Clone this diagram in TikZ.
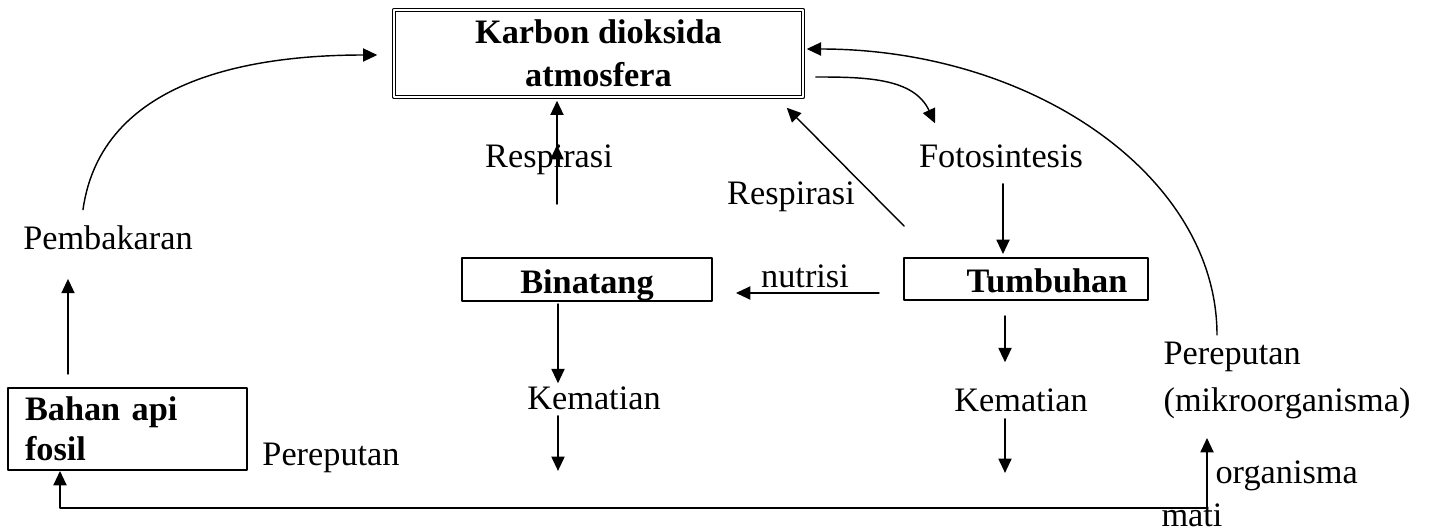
\documentclass[tikz,border=0pt]{standalone}
\usepackage{fontspec}
\setmainfont{Liberation Serif}
\usetikzlibrary{arrows.meta,calc}
\begin{document}
\begin{tikzpicture}[line cap=round,line join=round,>={Triangle[length=5pt,width=4.6pt]},x=0.35pt,y=0.35pt,
	kotak/.style={draw,line width=0.7pt,inner sep=0pt,font=\bfseries\fontsize{12}{14}\selectfont},
	teks/.style={inner sep=0pt,font=\fontsize{12}{14}\selectfont},
	panah/.style={->,line width=0.5pt}]
	\useasboundingbox (0,0) rectangle (1429,531);
	% kotak
	\node[kotak,double,double distance=0.6pt,line width=0.5pt,align=center,minimum width=143.15pt,minimum height=30.45pt,font=\bfseries\fontsize{12}{15}\selectfont] (co2) at (598.5,477.5) {Karbon dioksida\\atmosfera};
	\node[kotak,minimum width=87.5pt,text height=12.25pt,text depth=2.8pt] (bin) at (587,251.5) {Binatang\hspace{7pt}};
	\node[kotak,minimum width=85.4pt,text height=11.9pt,text depth=2.8pt] (tumb) at (1026,252) {\hspace{14.7pt}Tumbuhan};
	\node[kotak,minimum width=83.65pt,minimum height=28.7pt,text width=71.75pt,align=left,inner xsep=5.95pt] (fosil) at (127.5,102) {Bahan api\\fosil};
	% teks
	\node[teks,anchor=base] (pemb) at (108,282) {Pembakaran};
	\node[teks,anchor=base] (resp1) at (549,363) {Respirasi};
	\node[teks,anchor=base] (foto) at (1001,363) {Fotosintesis};
	\node[teks,anchor=base] (resp2) at (791,326) {Respirasi};
	\node[teks,anchor=base] (nutrisi) at (805,243) {nutrisi};
	\node[teks,anchor=base] (mati1) at (594,122) {Kematian};
	\node[teks,anchor=base] (mati2) at (1021,120) {Kematian};
	\node[teks,anchor=base] (reputA) at (331,66) {Pereputan};
	\node[teks,anchor=base west] (reputB) at (1163,167) {Pereputan};
	\node[teks,anchor=base west] (mikro) at (1163,120) {(mikroorganisma)};
	\node[teks,anchor=base west] (orgn) at (1215,48) {organisma};
	\node[teks,anchor=base] (mati) at (1192,5) {mati};
	% panah
	\draw[panah] ($(pemb.north)+(-25,15)$) to[out=82,in=180] ($(co2.west)+(-16,-1.5)$);
	\draw[panah] ($(fosil.north)+(-59.5,13)$) -- ($(pemb.south)+(-40,-29)$);
	\coordinate (sudut) at (1207,23);
	\draw[panah,<->] ($(fosil.south)+(-67.5,0)$) |- (sudut) -- ++(0,70);
	\draw[panah] ($(reputB.north west)+(54,6)$) .. controls +(0,158) and +(227,0) .. ($(co2.east)+(3,4.5)$);
	\draw[panah] ($(co2.east)+(12,-23.5)$) to[out=0,in=115] ($(foto.north)+(-66,21.5)$);
	\draw[panah] ($(foto.south)+(2,-15)$) -- ($(tumb.north)+(-23,3)$);
	\draw[panah] ($(tumb.north west)+(1,31)$) -- ($(co2.south east)+(-17,-10)$);
	\draw[panah] ($(tumb.west)+(-24,-14)$) -- ($(bin.east)+(23,-13.5)$);
	\draw[panah] ($(bin.north)+(-30,53)$) -- ++(0,59);
	\draw[panah] ($(co2.south)+(-41.5,-49)$) -- ($(co2.south)+(-41.5,-3)$);
	\draw[panah] ($(bin.south)+(-29,-2)$) -- ($(mati1.north)+(-36,2.5)$);
	\draw[panah] ($(mati1.south)+(-36,-6)$) -- ++(0,-55);
	\draw[panah] ($(tumb.south)+(-21,-15)$) -- ($(mati2.north)+(-16,25.5)$);
	\draw[panah] ($(mati2.south)+(-16,-7)$) -- ++(0,-54);
\end{tikzpicture}
\end{document}
